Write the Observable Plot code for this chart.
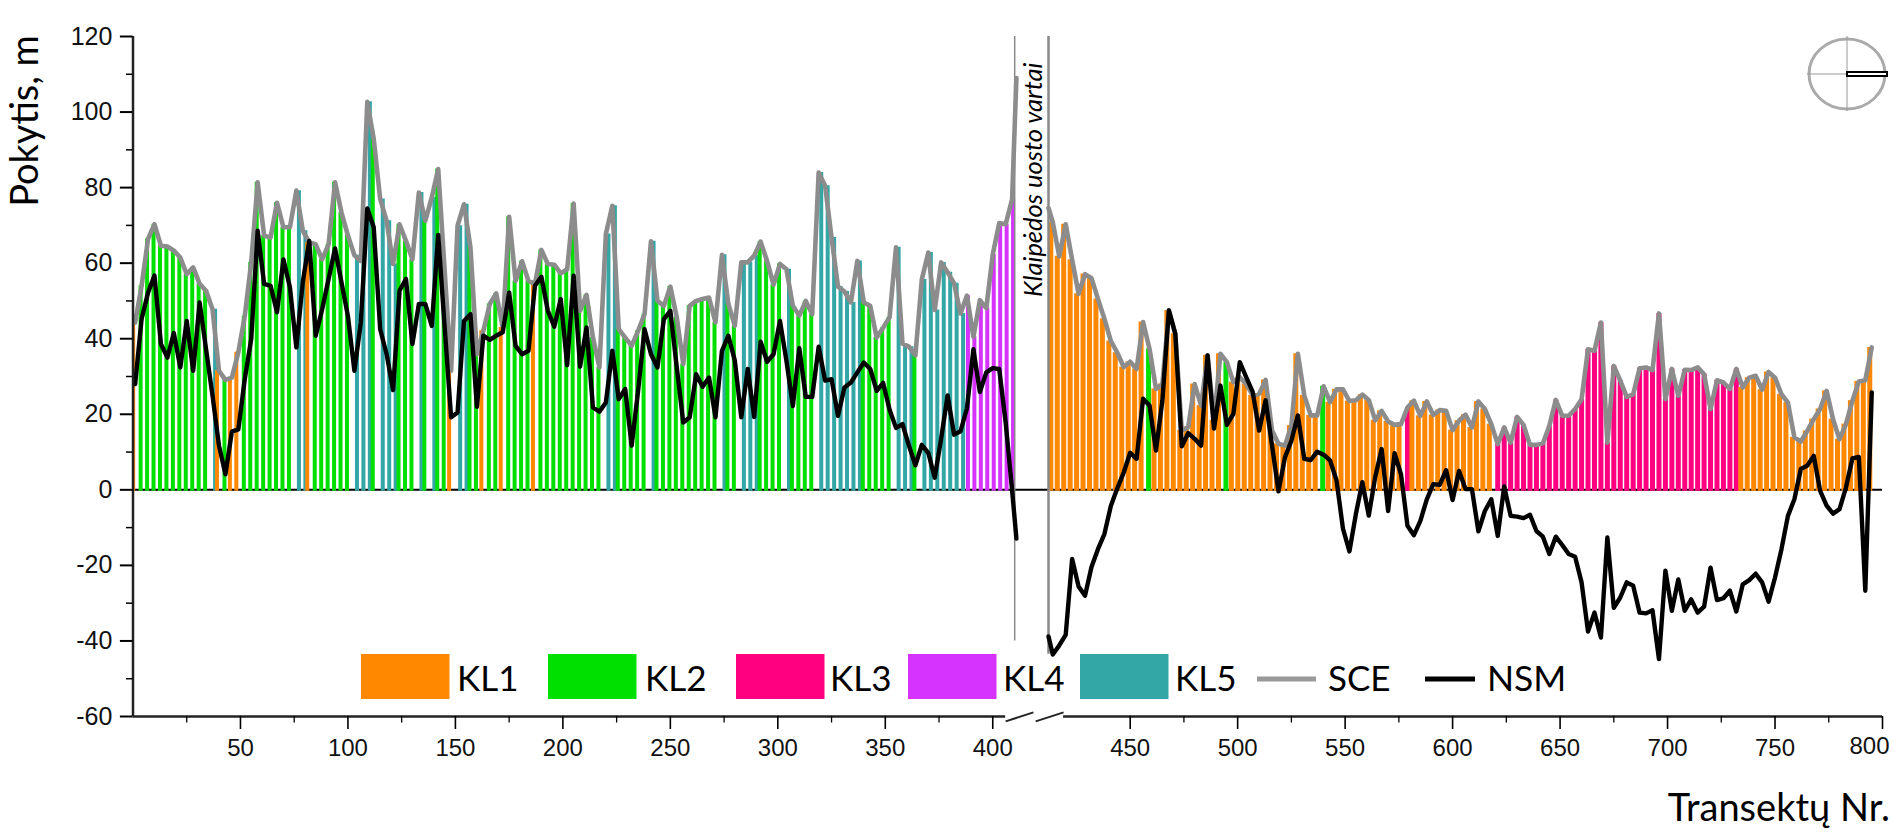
<!DOCTYPE html>
<html><head><meta charset="utf-8">
<style>html,body{margin:0;padding:0;background:#fff}svg{display:block}</style>
<script src="https://cdn.jsdelivr.net/npm/d3@7"></script>
<script src="https://cdn.jsdelivr.net/npm/@observablehq/plot@0.6"></script>
</head><body><div id="chart"></div>
<script>
// Transects north of the harbour gate: every third one, plus the last before the gate
const transectsNorth = [...d3.range(1, 410, 3), 411];
// Transects south of the gate
const transectsSouth = [412, 414, ...d3.range(417, 796, 3)];

const sceNorth = [
 44.3,54,66.4,70.3,64.6,64.4,63.3,61.5,57.1,58.9,
 54.5,52.7,47.8,31.5,29.1,29.7,36.4,46,60.2,81.4,
 67.3,66.8,76,69.5,69.5,79.2,68.6,65.5,65,61,
 65,81.4,73.4,67.3,62.1,60.6,102.7,92.9,77,71.2,
 59.8,70.3,65.9,61,78.7,71.2,77.4,84.9,58,31.5,
 69.9,75.6,64.2,35.9,42.1,49.2,52,43,72.3,55.3,
 60.5,55.3,54.5,63.5,59.8,59.6,57.3,58.4,75.8,47.4,
 51.6,40.3,32.4,67.7,75.2,42.5,40.3,38.1,42.1,46.5,
 65.8,50,48.7,53.8,45.6,33.3,48.7,50,50.5,50.9,
 44.3,62.2,49.2,43.4,60.2,60.2,62,65.7,60.6,54.3,
 59.8,58.4,48.7,46.1,50,46.5,84,80.5,66.8,53.8,
 52.5,49.6,60.6,49.6,48.7,40.3,42.9,45.7,64.2,38.7,
 37.9,35.6,55.7,62.8,47.6,60.2,57.6,54.7,46.7,51.4,
 40.5,50.2,48.1,62.3,70.6,70.3,76.9,109];
const nsmNorth = [
 28,45.2,52.2,56.7,38.6,35,41.5,32.4,44.7,31.5,
 49.6,37.2,24.9,11.7,4.1,15.4,16,29.3,39.9,68.6,
 54.5,54,47,61,53.6,37.7,55,65.9,40.8,47.8,
 55.8,63.9,54.9,46,31.5,44.3,74.5,69.5,42.5,35.9,
 26.4,52.7,55.8,38.6,49.2,49.2,43.4,67.5,43,19.2,
 20.5,44.7,46.5,22,40.8,39.7,40.8,41.7,52.2,38.1,
 35.9,36.8,54,56.4,47.4,43.2,50.5,33,56.7,32.6,
 43,21.8,20.7,23.1,36.8,24,26.7,11.7,26.2,42.5,
 35.9,32.4,45.2,47.4,32.4,17.8,19.2,30.6,27.3,29.7,
 19.2,36.8,40.8,34.2,19.2,32,19.3,39.2,33.9,35.9,
 44.7,34.2,22.2,37.5,24.6,24.6,37.9,28.9,29.3,19.6,
 27.1,28.4,31.1,33.7,32,26.2,28.3,21.2,16.4,17.4,
 11.7,6.5,11.9,9.8,3.2,13.6,25,14.6,15.5,21.6,
 37.2,25.9,31.1,32.2,32,17.9,-0.1,-12.9];
const sceSouth = [
 74.6,70.8,61.8,70.3,60.9,51.9,57.1,56,50.5,45.3,
 39.4,36.3,32.5,33.9,32,44.4,37.3,26.7,28,47.5,
 41.3,15.7,16.6,28,22.3,35.6,18.4,36,33.8,28.5,
 29.8,28,25,25.4,29.1,15.7,12.2,11.7,17,36,
 25,19.7,19.7,27.4,23.2,26.6,26.6,23.5,23.7,25.2,
 23.8,18.4,20.9,18.1,17.2,17.4,21.8,23.6,19.6,23.4,
 19.8,21.1,20.9,15.8,18.3,19.9,16.5,23.4,21.4,17.4,
 12.1,16.5,12.5,19.3,17.2,11.9,11.9,12.3,16.9,23.8,
 19.6,19.6,21.4,24,37.2,36.8,44.3,12.5,32.8,28.9,
 24.6,25.3,32.2,32.4,31.7,46.7,24,32,24.9,31.8,
 31.7,32.4,30.6,21.4,29,28.4,26.7,32,27.1,29.7,
 30.2,26.5,31.2,29.7,25.3,23.1,13.9,12.8,15.6,18.7,
 21.4,26.2,18.7,13.4,17.4,23.6,28.7,29,37.7];
const nsmSouth = [
 -38.8,-43.6,-41.2,-38.4,-18.3,-25.6,-28,-20.4,-15.7,-11.7,
 -4.3,0.4,4.6,9.8,8.2,24.1,22.3,10.4,23.7,47.5,
 41.3,11.5,15,13.5,11.7,35.6,16.2,27.6,17.2,20.1,
 33.8,29.8,25.9,15.7,23.7,11.7,-0.4,8.6,13,19.7,
 8.2,7.9,10.1,9.3,7.8,2.5,-10.3,-16.3,-6.4,2,
 -6.8,3.4,10.8,-5.6,9.7,4.1,-9.5,-12,-8.2,-2.5,
 1.5,1.3,5.2,-2.7,5,0.2,0.2,-11,-5.6,-2.5,
 -12.2,0.9,-6.9,-7.1,-7.5,-6.6,-10.9,-12.4,-17,-12.4,
 -14.6,-17,-17.7,-24.5,-37.5,-32.5,-39.1,-12.6,-31.2,-28.5,
 -24.5,-25.4,-32.5,-32.7,-31.9,-44.8,-21.4,-32,-23.7,-32,
 -29,-32.5,-30.9,-20.6,-29.2,-28.7,-26.7,-32.2,-25,-23.9,
 -22.2,-24.5,-29.6,-23.2,-15.7,-6.9,-2.5,5.5,6.4,9,
 -0.3,-4.2,-6.3,-5.1,0.6,8.3,8.7,-26.7,25.8];

// Class of each transect: a class holds from the given transect until the next entry
const classStarts = [
 ["KL1",1],["KL2",4],["KL5",37],["KL1",40],["KL2",43],["KL1",46],["KL2",52],["KL5",76],["KL1",82],
 ["KL2",85],["KL5",103],["KL2",112],["KL5",115],["KL2",124],["KL5",133],["KL2",136],["KL5",139],
 ["KL2",142],["KL1",148],["KL5",151],["KL2",157],["KL1",163],["KL2",166],["KL1",172],["KL2",175],
 ["KL1",187],["KL2",190],["KL5",220],["KL2",226],["KL5",241],["KL2",244],["KL5",274],["KL2",277],
 ["KL5",283],["KL2",292],["KL5",304],["KL2",307],["KL5",319],["KL2",340],["KL5",355],["KL2",364],
 ["KL5",367],["KL4",388],["KL1",412],["KL2",459],["KL1",462],["KL2",495],["KL1",498],["KL2",540],
 ["KL1",543],["KL3",579],["KL1",582],["KL3",621],["KL1",735]];

const classNames  = ["KL1","KL2","KL3","KL4","KL5"];
const classColors = ["#ff8800","#00e000","#ff0080","#d633ff","#33a6a6"];
const classShift  = {KL1:-0.93, KL2:-0.45, KL3:0, KL4:0.45, KL5:1.2}; // grouped-column slot, in transects

const xMajor = [50,100,150,200,250,300,350,400,450,500,550,600,650,700,750,800];
const xMinor = [25,75,125,175,225,275,325,375,475,525,575,625,675,725,775];
const yMajor = d3.range(-60,121,20);
const yMinor = d3.range(-50,120,20);

const classOf = t => classStarts.filter(c => c[1] <= t).at(-1)[0];
const rows = (ts, sce, nsm) => ts.map((t,i) => ({t, sce:sce[i], nsm:nsm[i], cls:classOf(t), xb:t+classShift[classOf(t)]}));
const north = rows(transectsNorth, sceNorth, nsmNorth);
const south = rows(transectsSouth, sceSouth, nsmSouth);
// The line vertices right at the gate carry no column of their own
const northBars = north.filter(d => d.t < 410);
const southBars = south.filter(d => d.t > 412);

const calibri = "Lato, Carlito, sans-serif";
const NS = "http://www.w3.org/2000/svg";
function el(parent, tag, attrs, text){
  const e = document.createElementNS(NS, tag);
  for (const k in attrs) e.setAttribute(k, attrs[k]);
  if (text != null) e.textContent = text;
  parent.appendChild(e);
  return e;
}
// Legend, compass and free labels sit over the frame, placed in page pixels
function decor(){
  const g = document.createElementNS(NS,"g");
  g.setAttribute("font-family", calibri);
  g.setAttribute("text-anchor", "start");
  const swX = [361,548,736,908,1080], txtX = [457,645,830,1003,1175];
  classNames.forEach((n,i)=>{
    el(g,"rect",{x:swX[i],y:654,width:88.5,height:45,fill:classColors[i]});
    el(g,"text",{x:txtX[i],y:691,"font-size":35},n);
  });
  el(g,"line",{x1:1257,x2:1316,y1:679,y2:679,stroke:"#999","stroke-width":5});
  el(g,"text",{x:1328,y:691,"font-size":35},"SCE");
  el(g,"line",{x1:1425,x2:1475,y1:679,y2:679,stroke:"#000","stroke-width":5});
  el(g,"text",{x:1487,y:691,"font-size":35.5},"NSM");
  el(g,"text",{x:1890,y:821,"text-anchor":"end","font-size":38},"Transektų Nr.");
  el(g,"text",{transform:"translate(38,121) rotate(-90)","text-anchor":"middle","font-size":38},"Pokytis, m");
  el(g,"text",{transform:"translate(1042,297) rotate(-90)","font-size":25.5,"font-style":"italic"},"Klaipėdos uosto vartai");
  // compass
  el(g,"ellipse",{cx:1847,cy:74,rx:38,ry:35,fill:"none",stroke:"#aaa","stroke-width":3});
  el(g,"line",{x1:1807,x2:1847,y1:74,y2:74,stroke:"#999","stroke-width":1});
  el(g,"line",{x1:1847,x2:1847,y1:36,y2:111,stroke:"#999","stroke-width":1});
  el(g,"rect",{x:1847,y:72,width:40,height:4,fill:"#fff",stroke:"#000","stroke-width":2});
  return g;
}

const barBase = -0.4;
const chart = Plot.plot({
  width:1893, height:837,
  marginLeft:132.5, marginRight:11, marginTop:36, marginBottom:121,
  x:{type:"linear", domain:[0,411,412,800], range:[132.5,1015.9,1048,1882]},
  y:{domain:[-60,120]},
  style:{background:"#fff", fontFamily:"Liberation Sans, Arial, sans-serif"},
  marks:[
    Plot.ruleY([0],{x1:0,x2:800,stroke:"#000",strokeWidth:2}),
    Plot.ruleX(northBars,{x:"xb",y1:barBase,y2:"sce",stroke:d=>classColors[classNames.indexOf(d.cls)],strokeWidth:4,clip:true}),
    Plot.ruleX(southBars,{x:"xb",y1:barBase,y2:"sce",stroke:d=>classColors[classNames.indexOf(d.cls)],strokeWidth:5,clip:true}),
    Plot.ruleX([410.2],{y1:-40,y2:120,stroke:"#888",strokeWidth:1.5}),
    Plot.ruleX([412],{y1:-43.5,y2:120,stroke:"#888",strokeWidth:2.5}),
    Plot.line(north,{x:"t",y:"sce",stroke:"#8c8c8c",strokeWidth:4.6}),
    Plot.line(south,{x:"t",y:"sce",stroke:"#8c8c8c",strokeWidth:4.6}),
    Plot.line(north,{x:"t",y:"nsm",stroke:"#000",strokeWidth:4.4}),
    Plot.line(south,{x:"t",y:"nsm",stroke:"#000",strokeWidth:4.4}),
    Plot.ruleX([0],{y1:-60,y2:120,stroke:"#222",strokeWidth:2.5}),
    Plot.ruleY([-60],{x1:0,x2:406,stroke:"#222",strokeWidth:2.5}),
    Plot.ruleY([-60],{x1:419,x2:800,stroke:"#222",strokeWidth:2.5}),
    Plot.link([406,411.6],{x1:d=>d,x2:d=>d===406?411.53:419,y1:-61.3,y2:-58.9,stroke:"#222",strokeWidth:2}),
    Plot.axisY({ticks:yMajor,tickSize:12.6,tickPadding:8,fontSize:25,strokeWidth:2,label:null,tickFormat:d=>String(d),anchor:"left",fill:"#111"}),
    Plot.axisY({ticks:yMinor,tickSize:6.5,strokeWidth:1.5,label:null,tickFormat:()=>"",anchor:"left"}),
    Plot.axisX({ticks:xMajor,tickSize:13,tickPadding:9,fontSize:24,strokeWidth:1.6,label:null,tickFormat:d=>d===800?"":String(d),anchor:"bottom",fill:"#111"}),
    Plot.axisX({ticks:xMinor,tickSize:6.5,strokeWidth:1.3,label:null,tickFormat:()=>"",anchor:"bottom"}),
    // The last tick label sits against the page edge, so it is pulled inward
    Plot.text([800],{x:d=>d,y:-60,text:d=>String(d),dx:-13,dy:30,fontSize:24,fill:"#111"}),
    decor
  ]
});
document.getElementById("chart").appendChild(chart);
</script></body></html>
